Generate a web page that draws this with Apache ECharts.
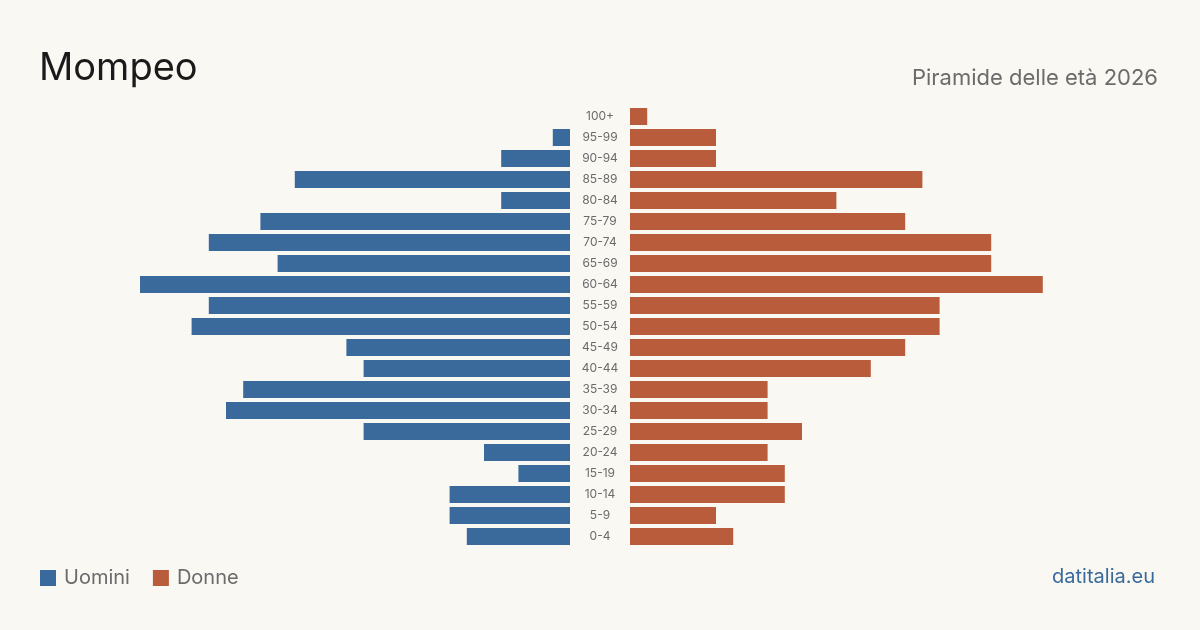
<!DOCTYPE html>
<html>
<head>
<meta charset="utf-8">
<title>Mompeo - Piramide delle età 2026</title>
<script src="https://cdn.jsdelivr.net/npm/echarts@6/dist/echarts.min.js"></script>
<style>
  html, body { margin: 0; padding: 0; background: #faf8f3; }
  #chart { width: 1200px; height: 630px; }
</style>
</head>
<body>
<div id="chart"></div>
<script>
// Age classes, youngest first (bottom of the pyramid)
var ageClasses = ["0-4", "5-9", "10-14", "15-19", "20-24", "25-29", "30-34", "35-39",
  "40-44", "45-49", "50-54", "55-59", "60-64", "65-69", "70-74", "75-79",
  "80-84", "85-89", "90-94", "95-99", "100+"];

var uomini = [6, 7, 7, 3, 5, 12, 20, 19, 12, 13, 22, 21, 25, 17, 21, 18, 4, 16, 4, 1, 0];
var donne = [6, 5, 9, 9, 8, 10, 8, 8, 14, 16, 18, 18, 24, 21, 21, 16, 12, 17, 5, 5, 1];

var BLUE = "#3a6a9b";
var ORANGE = "#b95c3c";

(function () {
  var el = document.getElementById("chart");
  var chart = echarts.init(el);
  var maxVal = 25;
  var font = "Inter, 'Noto Sans', sans-serif";

  chart.setOption({
    backgroundColor: "#faf8f3",
    animation: false,
    textStyle: { fontFamily: font },
    title: [
      {
        text: "Mompeo",
        left: 34,
        top: 45,
        textStyle: { fontSize: 38, fontWeight: "normal", color: "#1a1a1a", fontFamily: font }
      },
      {
        text: "Piramide delle età 2026",
        right: 37,
        top: 62,
        textStyle: { fontSize: 22, fontWeight: "normal", color: "#6b6b6b", fontFamily: font }
      },
      {
        text: "datitalia.eu",
        right: 40,
        top: 562,
        textStyle: { fontSize: 20, fontWeight: "normal", color: "#3a6a9b", fontFamily: font }
      }
    ],
    legend: {
      left: 40,
      top: 568,
      padding: 0,
      icon: "rect",
      itemWidth: 16,
      itemHeight: 16,
      itemGap: 23,
      textStyle: { fontSize: 20, color: "#6b6b6b", fontFamily: font, padding: [0, 0, 0, 3] },
      data: ["Uomini", "Donne"]
    },
    grid: [
      { left: 140, width: 430, top: 106, height: 441 },
      { left: 630, width: 430, top: 106, height: 441 }
    ],
    xAxis: [
      { gridIndex: 0, type: "value", min: 0, max: maxVal, inverse: true, show: false },
      { gridIndex: 1, type: "value", min: 0, max: maxVal, show: false }
    ],
    yAxis: [
      { gridIndex: 0, type: "category", data: ageClasses, show: false },
      {
        gridIndex: 1,
        type: "category",
        data: ageClasses,
        axisLine: { show: false },
        axisTick: { show: false },
        axisLabel: { margin: 30, align: "center", fontSize: 12, color: "#6b6b6b", fontFamily: font }
      }
    ],
    series: [
      {
        name: "Uomini",
        type: "bar",
        xAxisIndex: 0,
        yAxisIndex: 0,
        barWidth: 17,
        itemStyle: { color: BLUE },
        data: uomini
      },
      {
        name: "Donne",
        type: "bar",
        xAxisIndex: 1,
        yAxisIndex: 1,
        barWidth: 17,
        itemStyle: { color: ORANGE },
        data: donne
      }
    ]
  });
})();
</script>
</body>
</html>
